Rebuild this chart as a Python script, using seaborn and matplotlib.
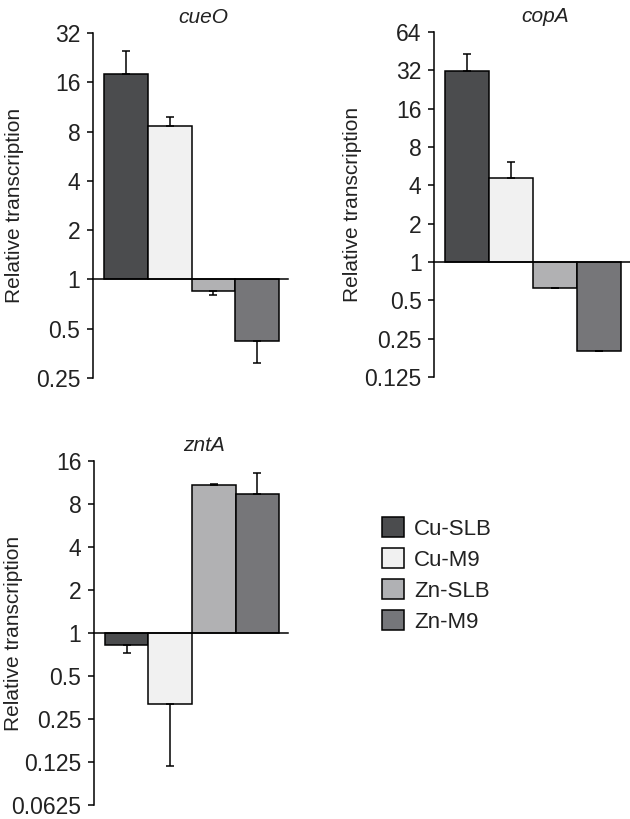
import numpy as np
import pandas as pd
import seaborn as sns
import matplotlib
matplotlib.use("Agg")
import matplotlib.pyplot as plt
from matplotlib.patches import Patch

# --- Data ---
conditions = ["Cu-SLB", "Cu-M9", "Zn-SLB", "Zn-M9"]
colors = ["#4b4c4e", "#f1f1f1", "#b0b1b4", "#75767a"]

cueO_values = [18.0, 8.6, 0.85, 0.42]
cueO_err_tips = [25.0, 9.8, 0.80, 0.31]

copA_values = [31.6, 4.55, 0.63, 0.20]
copA_err_tips = [43.0, 6.1, 0.63, 0.20]

zntA_values = [0.82, 0.32, 10.8, 9.4]
zntA_err_tips = [0.72, 0.117, 11.1, 13.2]

TEXT = "#222222"
LW = 1.1

sns.set_style("ticks")
plt.rcParams["font.family"] = ["Liberation Sans", "DejaVu Sans"]


def draw_panel(ax, gene, values, err_tips, lo, hi, label_x):
    df = pd.DataFrame({"condition": conditions, "log2": np.log2(values)})
    sns.barplot(data=df, x="condition", y="log2", hue="condition",
                order=conditions, hue_order=conditions, palette=colors,
                width=1, edgecolor="black", linewidth=LW, legend=False,
                errorbar=None, ax=ax, zorder=2)

    # one-sided error bars pointing away from the baseline
    y = np.log2(values)
    tips = np.log2(err_tips)
    lower = np.where(tips < y, y - tips, 0)
    upper = np.where(tips > y, tips - y, 0)
    ax.errorbar(np.arange(len(conditions)), y, yerr=[lower, upper], fmt="none",
                ecolor="black", elinewidth=LW, capsize=3, capthick=LW, zorder=3)

    ax.set_ylim(lo, hi)
    ax.set_xlim(-0.75, 3.7)
    ticks = list(range(lo, hi + 1))
    ax.set_yticks(ticks)
    ax.set_yticklabels([f"{2.0 ** k:g}" for k in ticks])

    ax.spines["top"].set_visible(False)
    ax.spines["right"].set_visible(False)
    ax.spines["bottom"].set_position(("data", 0))
    for s in ("left", "bottom"):
        ax.spines[s].set_linewidth(LW)
        ax.spines[s].set_color("black")

    ax.tick_params(axis="x", length=0, labelbottom=False)
    ax.tick_params(axis="y", length=4.5, width=LW, pad=4.5, labelsize=16.5,
                   labelcolor=TEXT, color="black")
    ax.set_xlabel("")
    ax.set_ylabel("Relative transcription", fontsize=15, color=TEXT)
    ax.yaxis.set_label_coords(label_x, 0.5)

    ax.text(0.565, 1.03, gene, transform=ax.transAxes, ha="center",
            va="baseline", style="italic", fontsize=15, color=TEXT)


fig = plt.figure(figsize=(6.3, 8.19), dpi=100)

ax1 = fig.add_axes([0.1476, 0.5385, 0.3095, 0.4212])
draw_panel(ax1, "cueO", cueO_values, cueO_err_tips, -2, 5, -0.354)

ax2 = fig.add_axes([0.689, 0.5397, 0.311, 0.4212])
draw_panel(ax2, "copA", copA_values, copA_err_tips, -3, 6, -0.367)

ax3 = fig.add_axes([0.149, 0.0171, 0.308, 0.420])
draw_panel(ax3, "zntA", zntA_values, zntA_err_tips, -4, 4, -0.366)

handles = [Patch(facecolor=c, edgecolor="black", linewidth=LW, label=l)
           for c, l in zip(colors, conditions)]
fig.legend(handles=handles, loc="upper left",
           bbox_to_anchor=(382 / 630, 1 - 517 / 819), frameon=False,
           fontsize=16, handlelength=1.0, handleheight=1.0,
           handletextpad=0.45, labelspacing=0.38, borderpad=0,
           borderaxespad=0, labelcolor=TEXT)

fig.savefig("out.png", dpi=100)
